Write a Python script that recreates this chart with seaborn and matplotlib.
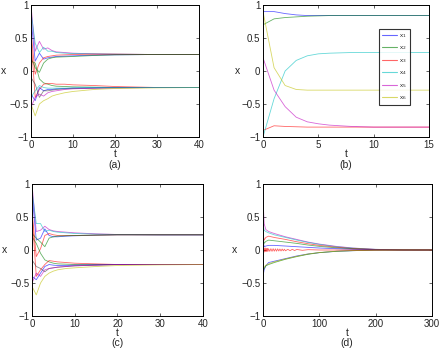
import numpy as np
import pandas as pd
import matplotlib
matplotlib.use("Agg")
import matplotlib.pyplot as plt
import seaborn as sns

sns.set_theme(style="ticks")
plt.rcParams.update({
    "font.family": ["Liberation Sans", "DejaVu Sans"],
    "font.size": 7,
    "axes.linewidth": 0.7,
    "xtick.direction": "in",
    "ytick.direction": "in",
    "xtick.top": True,
    "ytick.right": True,
    "xtick.major.size": 2.5,
    "ytick.major.size": 2.5,
    "xtick.major.width": 0.5,
    "ytick.major.width": 0.5,
    "xtick.labelsize": 7,
    "ytick.labelsize": 7,
    "xtick.major.pad": 2,
    "ytick.major.pad": 2,
    "axes.edgecolor": "black",
})

# MATLAB-like colour order
C = {"b": "#0000ff", "g": "#008000", "r": "#ff0000", "c": "#00bfbf",
     "m": "#bf00bf", "y": "#bfbf00", "k": "#404040"}

# ---------------- panel (a) ----------------
t_a = [0, 1, 2, 3, 4, 5, 6, 8, 10, 15, 20, 30, 40]
a_m_up = [1.00, 0.30, 0.45, 0.33, 0.35, 0.31, 0.29, 0.28, 0.27, 0.26, 0.255, 0.25, 0.25]
a_c_up = [0.90, 0.42, 0.28, 0.36, 0.30, 0.30, 0.28, 0.27, 0.265, 0.26, 0.255, 0.25, 0.25]
a_b_up = [0.80, 0.15, 0.27, 0.18, 0.20, 0.21, 0.22, 0.225, 0.23, 0.24, 0.245, 0.25, 0.25]
a_r_up = [0.60, -0.05, 0.12, 0.20, 0.22, 0.23, 0.24, 0.245, 0.25, 0.255, 0.255, 0.25, 0.25]
a_g_up = [0.20, 0.05, -0.02, 0.12, 0.18, 0.20, 0.21, 0.215, 0.22, 0.235, 0.245, 0.25, 0.25]
a_g_lo = [0.15, 0.12, -0.12, -0.18, -0.20, -0.22, -0.23, -0.235, -0.24, -0.245, -0.25, -0.25, -0.25]
a_r_lo = [0.50, -0.40, -0.28, -0.20, -0.19, -0.19, -0.20, -0.20, -0.21, -0.22, -0.235, -0.25, -0.25]
a_b_lo = [-0.35, -0.45, -0.25, -0.30, -0.28, -0.28, -0.27, -0.265, -0.26, -0.255, -0.25, -0.25, -0.25]
a_k_lo = [-0.10, -0.20, -0.40, -0.30, -0.30, -0.29, -0.28, -0.27, -0.265, -0.26, -0.255, -0.25, -0.25]
a_m_lo = [-0.55, -0.40, -0.35, -0.38, -0.33, -0.31, -0.30, -0.28, -0.27, -0.26, -0.255, -0.25, -0.25]
a_y_lo = [-0.50, -0.68, -0.50, -0.45, -0.42, -0.38, -0.36, -0.33, -0.31, -0.28, -0.265, -0.255, -0.25]
a_c_lo = [-0.40, -0.30, -0.22, -0.25, -0.26, -0.26, -0.26, -0.26, -0.255, -0.25, -0.25, -0.25, -0.25]

# ---------------- panel (b) ----------------
t_b = [0, 1, 2, 3, 4, 5, 6, 7, 8, 10, 12, 15]
b_x1 = [0.90, 0.90, 0.87, 0.85, 0.84, 0.84, 0.84, 0.84, 0.84, 0.84, 0.84, 0.84]
b_x2 = [0.70, 0.79, 0.81, 0.82, 0.83, 0.835, 0.84, 0.84, 0.84, 0.84, 0.84, 0.84]
b_x3 = [-0.90, -0.83, -0.84, -0.845, -0.85, -0.85, -0.85, -0.85, -0.85, -0.85, -0.85, -0.85]
b_x4 = [-1.00, -0.42, 0.00, 0.16, 0.23, 0.26, 0.27, 0.275, 0.28, 0.28, 0.28, 0.28]
b_x5 = [0.20, -0.29, -0.54, -0.70, -0.77, -0.80, -0.82, -0.83, -0.84, -0.85, -0.85, -0.85]
b_x6 = [0.90, 0.05, -0.22, -0.28, -0.29, -0.29, -0.29, -0.29, -0.29, -0.29, -0.29, -0.29]
b_labels = ["x$_1$", "x$_2$", "x$_3$", "x$_4$", "x$_5$", "x$_6$"]

# ---------------- panel (c) ----------------
t_c = [0, 1, 2, 3, 4, 5, 6, 8, 10, 15, 20, 30, 40]
c_m_up = [1.00, 0.28, 0.30, 0.36, 0.31, 0.29, 0.28, 0.27, 0.26, 0.245, 0.235, 0.23, 0.23]
c_c_up = [0.90, 0.40, 0.40, 0.28, 0.30, 0.28, 0.27, 0.26, 0.25, 0.24, 0.235, 0.23, 0.23]
c_b_up = [0.85, 0.15, 0.18, 0.32, 0.22, 0.20, 0.20, 0.21, 0.215, 0.225, 0.23, 0.23, 0.23]
c_r_up = [0.60, -0.10, 0.02, 0.22, 0.25, 0.23, 0.22, 0.22, 0.22, 0.225, 0.23, 0.23, 0.23]
c_g_up = [0.25, 0.18, 0.12, 0.05, 0.18, 0.20, 0.21, 0.215, 0.22, 0.225, 0.23, 0.23, 0.23]
c_g_lo = [0.20, 0.10, -0.05, -0.15, -0.18, -0.20, -0.21, -0.215, -0.22, -0.22, -0.22, -0.22, -0.22]
c_r_lo = [0.55, -0.40, -0.30, -0.22, -0.16, -0.17, -0.18, -0.19, -0.20, -0.21, -0.22, -0.22, -0.22]
c_b_lo = [-0.40, -0.45, -0.35, -0.25, -0.22, -0.23, -0.235, -0.235, -0.23, -0.225, -0.22, -0.22, -0.22]
c_k_lo = [-0.15, -0.25, -0.28, -0.33, -0.28, -0.27, -0.26, -0.25, -0.24, -0.23, -0.22, -0.22, -0.22]
c_m_lo = [-0.50, -0.35, -0.40, -0.30, -0.28, -0.27, -0.26, -0.25, -0.24, -0.23, -0.22, -0.22, -0.22]
c_y_lo = [-0.55, -0.68, -0.50, -0.40, -0.35, -0.32, -0.30, -0.28, -0.27, -0.25, -0.235, -0.225, -0.22]

# ---------------- panel (d) ----------------
t_d = [0, 1, 2, 5, 10, 20, 40, 60, 80, 100, 130, 160, 200, 250, 300]
d_m_up = [1.00, 0.60, 0.40, 0.31, 0.28, 0.25, 0.20, 0.16, 0.12, 0.09, 0.055, 0.03, 0.01, 0.002, 0.0]
d_c_up = [0.80, 0.35, 0.30, 0.28, 0.26, 0.23, 0.19, 0.15, 0.115, 0.085, 0.05, 0.028, 0.01, 0.002, 0.0]
d_r_up = [0.60, 0.20, 0.15, 0.19, 0.21, 0.19, 0.16, 0.125, 0.095, 0.07, 0.042, 0.022, 0.008, 0.001, 0.0]
d_g_up = [0.30, 0.15, 0.10, 0.13, 0.15, 0.14, 0.12, 0.10, 0.075, 0.055, 0.033, 0.018, 0.006, 0.001, 0.0]
d_b_up = [0.50, 0.10, 0.05, 0.06, 0.07, 0.07, 0.06, 0.05, 0.04, 0.03, 0.02, 0.01, 0.004, 0.0, 0.0]
d_b_lo = [-0.40, -0.35, -0.30, -0.24, -0.19, -0.17, -0.13, -0.09, -0.06, -0.04, -0.02, -0.01, -0.003, 0.0, 0.0]
d_g_lo = [-0.20, -0.30, -0.28, -0.24, -0.22, -0.19, -0.14, -0.10, -0.065, -0.04, -0.02, -0.01, -0.003, 0.0, 0.0]
d_y_lo = [-0.70, -0.30, -0.26, -0.23, -0.21, -0.18, -0.135, -0.095, -0.06, -0.038, -0.018, -0.008, -0.002, 0.0, 0.0]
d_osc_t = [0, 1, 2, 3, 4, 5, 6, 7, 8, 9, 10, 12, 14, 16, 18, 20, 22, 24, 26, 28,
           30, 32, 34, 36, 38, 40, 44, 48, 52, 56, 60, 70, 80, 100, 150, 300]
d_osc_r = [0.0, -0.03, 0.03, -0.03, 0.03, -0.025, 0.025, -0.025, 0.025, -0.02, 0.02,
           -0.02, 0.02, -0.02, 0.02, -0.018, 0.018, -0.018, 0.018, -0.015, 0.015,
           -0.015, 0.015, -0.012, 0.012, -0.012, 0.01, -0.01, 0.01, -0.008, 0.008,
           -0.005, 0.005, 0.0, 0.0, 0.0]

fig = plt.figure(figsize=(4.43, 3.55), dpi=100)
W, H = 443.0, 355.0


def add_ax(l, r, t, b):
    return fig.add_axes([l / W, 1 - b / H, (r - l) / W, (b - t) / H])


LW = 0.6
AL = 0.6


def draw(ax, t, series):
    for vals, col in series:
        sns.lineplot(x=t, y=vals, ax=ax, color=C[col], lw=LW, alpha=AL,
                     estimator=None, sort=False, legend=False)


def style(ax, xmax, xticks):
    ax.set_xlim(0, xmax)
    ax.set_ylim(-1, 1)
    ax.set_xticks(xticks)
    ax.set_yticks([-1, -0.5, 0, 0.5, 1])
    ax.set_yticklabels(["\u22121", "\u22120.5", "0", "0.5", "1"])
    ax.set_xlabel("")
    ax.set_ylabel("")
    for s in ax.spines.values():
        s.set_visible(True)
        s.set_linewidth(0.7)


axA = add_ax(31, 199, 5, 137)
draw(axA, t_a, [(a_m_up, "m"), (a_c_up, "c"), (a_b_up, "b"), (a_r_up, "r"), (a_g_up, "g"),
                (a_g_lo, "g"), (a_r_lo, "r"), (a_b_lo, "b"), (a_k_lo, "k"), (a_m_lo, "m"),
                (a_y_lo, "y"), (a_c_lo, "c")])
style(axA, 40, [0, 10, 20, 30, 40])

axB = add_ax(263, 429, 5, 137)
for vals, col, lab in zip([b_x1, b_x2, b_x3, b_x4, b_x5, b_x6], ["b", "g", "r", "c", "m", "y"], b_labels):
    sns.lineplot(x=t_b, y=vals, ax=axB, color=C[col], lw=LW, alpha=AL, label=lab,
                 estimator=None, sort=False)
style(axB, 15, [0, 5, 10, 15])
leg = axB.legend(loc="upper left", bbox_to_anchor=(379 / W, 1 - 29 / H),
                 bbox_transform=fig.transFigure, borderaxespad=0, fontsize=4.5,
                 handlelength=2.3, handletextpad=0.4, labelspacing=0.72,
                 borderpad=0.5, frameon=True, fancybox=False)
leg.get_frame().set_edgecolor("black")
leg.get_frame().set_linewidth(0.8)
for line in leg.get_lines():
    line.set_linewidth(0.8)

axC = add_ax(32, 203, 184, 316)
draw(axC, t_c, [(c_m_up, "m"), (c_c_up, "c"), (c_b_up, "b"), (c_r_up, "r"), (c_g_up, "g"),
                (c_g_lo, "g"), (c_r_lo, "r"), (c_b_lo, "b"), (c_k_lo, "k"), (c_m_lo, "m"),
                (c_y_lo, "y")])
style(axC, 40, [0, 10, 20, 30, 40])

axD = add_ax(263, 432, 184, 316)
draw(axD, t_d, [(d_m_up, "m"), (d_c_up, "c"), (d_r_up, "r"), (d_g_up, "g"), (d_b_up, "b"),
                (d_b_lo, "b"), (d_g_lo, "g"), (d_y_lo, "y")])
draw(axD, d_osc_t, [(d_osc_r, "r")])
style(axD, 300, [0, 100, 200, 300])

# axis labels and panel captions
fs_lab = 7.5
for (xc, yt, yc, lab, xx, yx) in [
        (115, 154, 165, "(a)", 4, 71),
        (346, 154, 165, "(b)", 237, 71),
        (117, 333.5, 343, "(c)", 5, 250),
        (347, 333.5, 343, "(d)", 235, 250)]:
    fig.text(xc / W, 1 - yt / H, "t", ha="center", va="center", fontsize=fs_lab)
    fig.text(xc / W, 1 - yc / H, lab, ha="center", va="center", fontsize=fs_lab)
    fig.text(xx / W, 1 - yx / H, "x", ha="center", va="center", fontsize=fs_lab)

fig.savefig("out.png", dpi=100)
